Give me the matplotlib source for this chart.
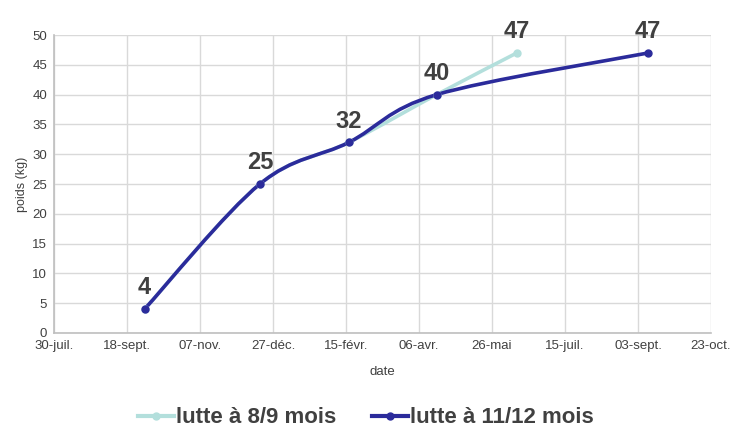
import numpy as np
import matplotlib
matplotlib.use("Agg")
import matplotlib.pyplot as plt
import matplotlib.dates as mdates
from matplotlib.path import Path
from matplotlib.patches import PathPatch
from matplotlib.lines import Line2D
from datetime import date

plt.rcParams['font.family'] = ['Liberation Sans', 'DejaVu Sans']

# data
dates_8_9 = [date(2020, 9, 30), date(2020, 12, 18), date(2021, 2, 17),
             date(2021, 4, 18), date(2021, 6, 12)]
poids_8_9 = [4, 25, 32, 40, 47]
dates_11_12 = [date(2020, 9, 30), date(2020, 12, 18), date(2021, 2, 17),
               date(2021, 4, 18), date(2021, 9, 10)]
poids_11_12 = [4, 25, 32, 40, 47]

tick_dates = [date(2020, 7, 30), date(2020, 9, 18), date(2020, 11, 7),
              date(2020, 12, 27), date(2021, 2, 15), date(2021, 4, 6),
              date(2021, 5, 26), date(2021, 7, 15), date(2021, 9, 3),
              date(2021, 10, 23)]
tick_labels = ['30-juil.', '18-sept.', '07-nov.', '27-déc.', '15-févr.',
               '06-avr.', '26-mai', '15-juil.', '03-sept.', '23-oct.']

light = '#b3dfdc'
dark = '#2b2b9b'
txt = '#404040'


def smooth_path(xs, ys):
    # excel-like smoothed line: catmull-rom converted to cubic bezier segments
    pts = np.column_stack([xs, ys]).astype(float)
    verts = [pts[0]]
    codes = [Path.MOVETO]
    n = len(pts)
    for i in range(n - 1):
        p0 = pts[max(i - 1, 0)]
        p1 = pts[i]
        p2 = pts[i + 1]
        p3 = pts[min(i + 2, n - 1)]
        c1 = p1 + (p2 - p0) / 6.0
        c2 = p2 - (p3 - p1) / 6.0
        verts += [c1, c2, p2]
        codes += [Path.CURVE4] * 3
    return Path(verts, codes)


fig = plt.figure(figsize=(7.47, 4.48), dpi=100)
ax = fig.add_axes([0.0723, 0.2567, 0.8795, 0.665])

for d, p, col in [(dates_8_9, poids_8_9, light), (dates_11_12, poids_11_12, dark)]:
    x = mdates.date2num(d)
    ax.add_patch(PathPatch(smooth_path(x, p), facecolor='none', edgecolor=col,
                           lw=2.6, capstyle='round', zorder=3))
    ax.plot(x, p, ls='none', marker='o', ms=5, color=col, zorder=4)

# value labels
for d, p in [(dates_11_12[0], poids_11_12[0]), (dates_11_12[1], poids_11_12[1]),
             (dates_11_12[2], poids_11_12[2]), (dates_11_12[3], poids_11_12[3]),
             (dates_8_9[4], poids_8_9[4]), (dates_11_12[4], poids_11_12[4])]:
    ax.annotate(str(p), (mdates.date2num(d), p), xytext=(0, 7),
                textcoords='offset points', ha='center', va='bottom',
                fontsize=17, fontweight='bold', color=txt, zorder=5)

ax.set_xlim(mdates.date2num(tick_dates[0]), mdates.date2num(tick_dates[-1]))
ax.set_ylim(0, 50)
ax.set_xticks(mdates.date2num(tick_dates))
ax.set_xticklabels(tick_labels)
ax.set_yticks(range(0, 51, 5))
ax.tick_params(labelsize=9.5, colors=txt, length=0, pad=5)
ax.grid(True, color='#d9d9d9', lw=1)
ax.set_axisbelow(True)
for s in ['top', 'right']:
    ax.spines[s].set_visible(False)
for s in ['left', 'bottom']:
    ax.spines[s].set_color('#bfbfbf')
    ax.spines[s].set_linewidth(1.2)

ax.set_xlabel('date', fontsize=9.5, color=txt, labelpad=10)
ax.set_ylabel('poids (kg)', fontsize=9, color=txt, labelpad=3)

handles = [Line2D([], [], color=light, lw=3, marker='o', ms=5),
           Line2D([], [], color=dark, lw=3, marker='o', ms=5)]
fig.legend(handles, ['lutte à 8/9 mois', 'lutte à 11/12 mois'],
           loc='center', bbox_to_anchor=(0.49, 0.067), ncol=2, frameon=False,
           prop={'size': 16, 'weight': 'bold'}, labelcolor=txt,
           handlelength=1.6, handletextpad=0.1, columnspacing=1.6)

fig.savefig('out.png', dpi=100)
